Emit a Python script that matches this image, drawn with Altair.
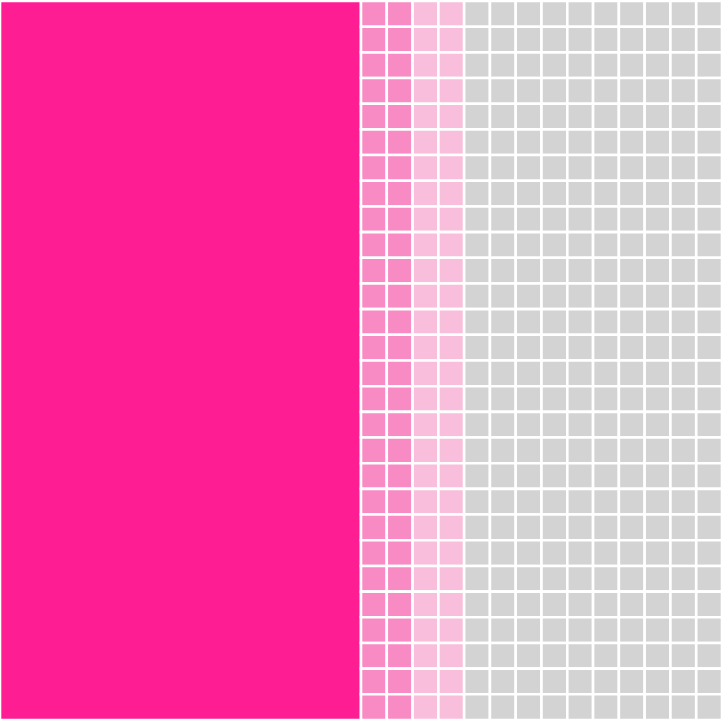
import altair as alt
import pandas as pd

# Waffle chart data: 28 x 28 grid filled column by column
categories = ["Group A", "Group B", "Group C", "Group D"]
counts = [392, 56, 56, 280]
colors = ["#FF1D94", "#F88AC4", "#F9BEDC", "#D3D3D3"]
n_rows = 28
n_cols = 28

records = []
i = 0
for cat, cnt in zip(categories, counts):
    for _ in range(cnt):
        col = i // n_rows
        row = i % n_rows
        records.append({"category": cat, "col": col, "col_end": col + 1,
                        "row": row, "row_end": row + 1})
        i += 1
df = pd.DataFrame(records)

xs = alt.Scale(domain=[0, n_cols], nice=False, zero=False)
ys = alt.Scale(domain=[0, n_rows], nice=False, zero=False, reverse=True)
cs = alt.Scale(domain=categories, range=colors)

base = alt.Chart(df)

cells = base.transform_filter(
    alt.datum.category != categories[0]
).mark_rect(stroke="white", strokeWidth=2.6).encode(
    x=alt.X("col:Q", scale=xs, axis=None),
    x2="col_end:Q",
    y=alt.Y("row:Q", scale=ys, axis=None),
    y2="row_end:Q",
    color=alt.Color("category:N", scale=cs, legend=None),
)

big = base.transform_filter(
    alt.datum.category == categories[0]
).transform_aggregate(
    x0="min(col)", x1="max(col_end)", y0="min(row)", y1="max(row_end)",
    groupby=["category"],
).mark_rect(stroke="white", strokeWidth=2.6).encode(
    x=alt.X("x0:Q", scale=xs, axis=None),
    x2="x1:Q",
    y=alt.Y("y0:Q", scale=ys, axis=None),
    y2="y1:Q",
    color=alt.Color("category:N", scale=cs, legend=None),
)

chart = alt.layer(big, cells).properties(
    width=722, height=719,
    padding={"left": 0, "top": 1, "right": 2, "bottom": 2},
    autosize="none",
    background="white",
).configure_view(stroke=None)

chart.save("out.html", embed_options={"renderer": "svg", "actions": False})
